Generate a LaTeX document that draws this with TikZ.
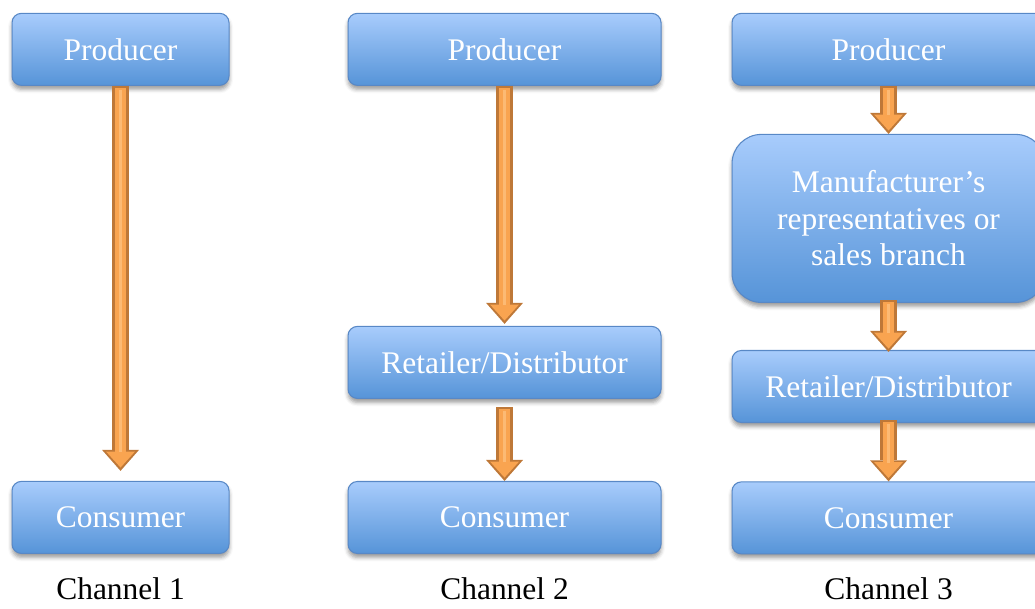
\documentclass[tikz,border=0pt]{standalone}
\usepackage{fontspec}
\setmainfont{Liberation Serif}
\usepackage{xcolor}
\usetikzlibrary{arrows.meta}
\usetikzlibrary{positioning,shadows.blur}

\definecolor{boxtop}{RGB}{168,204,252}
\definecolor{boxbottom}{RGB}{86,148,216}
\definecolor{boxedge}{RGB}{88,136,198}
\definecolor{flowfill}{RGB}{249,164,80}
\definecolor{flowlight}{RGB}{252,186,116}
\definecolor{flowedge}{RGB}{190,120,56}

\begin{document}
\begin{tikzpicture}[node distance=36pt,
    box/.style={rectangle,rounded corners=7pt,draw=boxedge,line width=0.8pt,
      top color=boxtop,bottom color=boxbottom,text=white,
      font=\fontsize{23.6}{27.5}\selectfont,minimum height=54pt,align=center,
      blur shadow={shadow xshift=0pt,shadow yshift=-3pt,shadow blur radius=3pt,shadow opacity=40}},
    narrow box/.style={box,minimum width=162.75pt},
    wide box/.style={box,minimum width=234.75pt},
    channel/.style={inner sep=0pt,font=\fontsize{23.6}{27.5}\selectfont},
    flow/.style 2 args={
      preaction={draw=flowedge,line width=12.75pt,shorten <=#1,shorten >=#2,
        -{Triangle[length=15.75pt,width=27.75pt,line width=0pt]}},
      postaction={draw=flowlight,line width=2.5pt,shorten <=#1+3pt,shorten >=#2+14pt,-},
      draw=flowfill,line width=8.25pt,shorten <=#1+1.5pt,shorten >=#2+2.5pt,
      -{Triangle[length=12pt,width=21.75pt,line width=0pt]}}]

  \useasboundingbox (0pt,0pt) rectangle (776.25pt,-456pt);

  % channel 1
  \node[narrow box] (p1) at (90.4pt,-37pt) {Producer};
  \node[narrow box] (c1) [below=296.25pt of p1] {Consumer};
  \node[channel] (l1) [below=17.5pt of c1] {Channel 1};

  % channel 2
  \node[wide box] (p2) at (378.4pt,-37pt) {Producer};
  \node[wide box] (r2) [below=180pt of p2] {Retailer/Distributor};
  \node[wide box] (c2) [below=61.5pt of r2] {Consumer};
  \node[channel] (l2) [below=17.5pt of c2] {Channel 2};

  % channel 3
  \node[wide box] (p3) at (666.4pt,-37pt) {Producer};
  \node[wide box,rounded corners=22pt,minimum height=126pt] (m3) [below=36pt of p3]
    {Manufacturer’s\\representatives or\\sales branch};
  \node[wide box] (r3) [below=35.25pt of m3] {Retailer/Distributor};
  \node[wide box] (c3) [below=43.75pt of r3] {Consumer};
  \node[channel] (l3) [below=17.5pt of c3] {Channel 3};

  \draw[flow={0pt}{7.5pt}] (p1) -- (c1);
  \draw[flow={0pt}{1.5pt}] (p2) -- (r2);
  \draw[flow={6pt}{0pt}] (r2) -- (c2);
  \draw[flow={0pt}{0pt}] (p3) -- (m3);
  \draw[flow={-2pt}{-1.5pt}] (m3) -- (r3);
  \draw[flow={-2pt}{0pt}] (r3) -- (c3);
\end{tikzpicture}
\end{document}
